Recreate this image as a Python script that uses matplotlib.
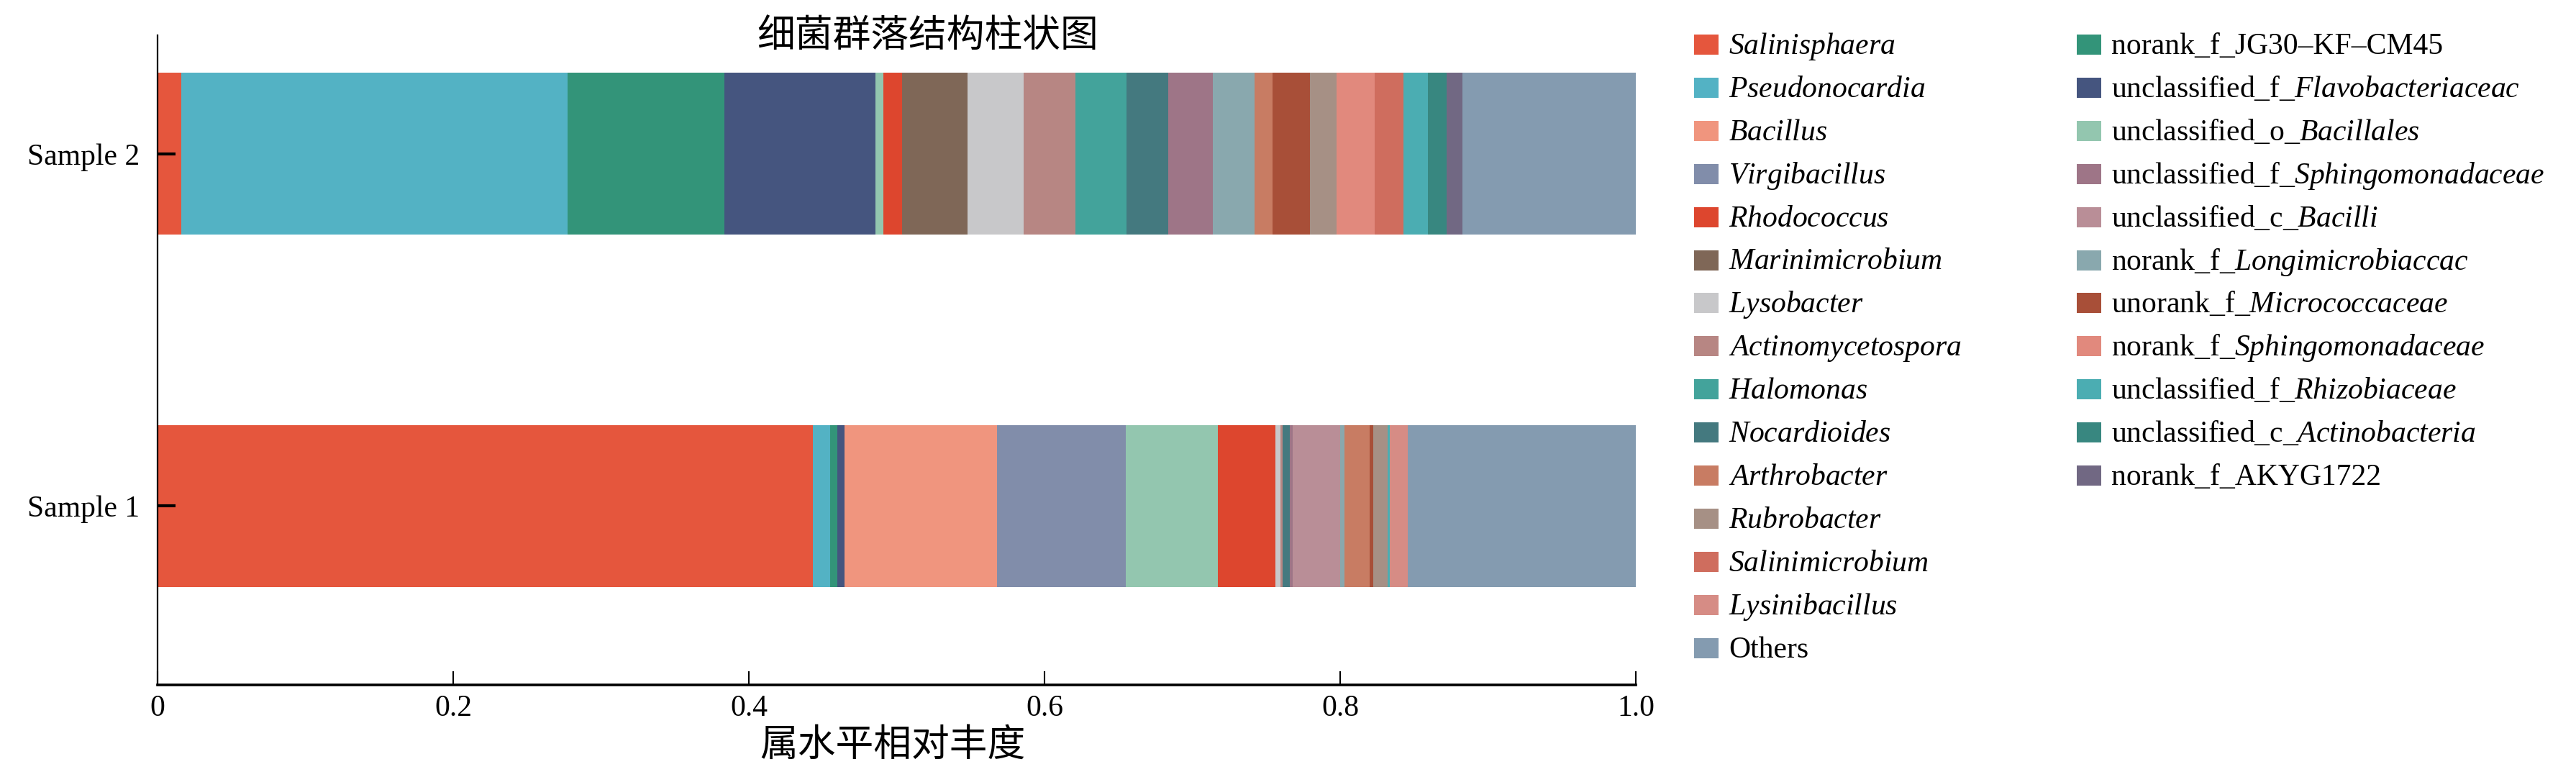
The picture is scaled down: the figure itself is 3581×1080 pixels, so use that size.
import matplotlib
matplotlib.use('Agg')
import matplotlib.pyplot as plt
from matplotlib.patches import Rectangle
import numpy as np

plt.rcParams['font.family'] = ['Liberation Serif', 'Noto Sans CJK SC', 'DejaVu Sans']
plt.rcParams['mathtext.fontset'] = 'custom'
plt.rcParams['mathtext.rm'] = 'Liberation Serif'
plt.rcParams['mathtext.it'] = 'Liberation Serif:italic'
plt.rcParams['mathtext.bf'] = 'Liberation Serif:bold'

# ---------------- data ----------------
samples = ['Sample 1', 'Sample 2']

taxa = ['Salinisphaera', 'Pseudonocardia', 'norank_f_JG30-KF-CM45',
        'unclassified_f_Flavobacteriaceac', 'Bacillus', 'Virgibacillus',
        'unclassified_o_Bacillales', 'Rhodococcus', 'Marinimicrobium',
        'Lysobacter', 'Actinomycetospora', 'Halomonas', 'Nocardioides',
        'unclassified_f_Sphingomonadaceae', 'unclassified_c_Bacilli',
        'norank_f_Longimicrobiaccac', 'Arthrobacter', 'unorank_f_Micrococcaceae',
        'Rubrobacter', 'norank_f_Sphingomonadaceae', 'Salinimicrobium',
        'unclassified_f_Rhizobiaceae', 'unclassified_c_Actinobacteria',
        'norank_f_AKYG1722', 'Lysinibacillus', 'Others']

sample1 = [0.4433, 0.0119, 0.0046, 0.0051, 0.1032, 0.0871,
           0.0621, 0.0391, 0.0, 0.0030, 0.0015, 0.0, 0.0049,
           0.0020, 0.0321, 0.0029, 0.0170, 0.0024,
           0.0097, 0.0, 0.0, 0.0019, 0.0, 0.0, 0.0117, 0.1545]

sample2 = [0.0160, 0.2614, 0.1061, 0.1022, 0.0, 0.0,
           0.0054, 0.0127, 0.0443, 0.0380, 0.0346, 0.0348, 0.0280,
           0.0302, 0.0, 0.0282, 0.0122, 0.0253,
           0.0180, 0.0258, 0.0195, 0.0168, 0.0124, 0.0107, 0.0, 0.1174]

# legend labels (rich text) and column layout
labels = {
    'Salinisphaera': r'$\mathit{Salinisphaera}$',
    'Pseudonocardia': r'$\mathit{Pseudonocardia}$',
    'Bacillus': r'$\mathit{Bacillus}$',
    'Virgibacillus': r'$\mathit{Virgibacillus}$',
    'Rhodococcus': r'$\mathit{Rhodococcus}$',
    'Marinimicrobium': r'$\mathit{Marinimicrobium}$',
    'Lysobacter': r'$\mathit{Lysobacter}$',
    'Actinomycetospora': r'$\mathit{Actinomycetospora}$',
    'Halomonas': r'$\mathit{Halomonas}$',
    'Nocardioides': r'$\mathit{Nocardioides}$',
    'Arthrobacter': r'$\mathit{Arthrobacter}$',
    'Rubrobacter': r'$\mathit{Rubrobacter}$',
    'Salinimicrobium': r'$\mathit{Salinimicrobium}$',
    'Lysinibacillus': r'$\mathit{Lysinibacillus}$',
    'Others': 'Others',
    'norank_f_JG30-KF-CM45': 'norank_f_JG30\u2013KF\u2013CM45',
    'unclassified_f_Flavobacteriaceac': r'unclassified_f_$\mathit{Flavobacteriaceac}$',
    'unclassified_o_Bacillales': r'unclassified_o_$\mathit{Bacillales}$',
    'unclassified_f_Sphingomonadaceae': r'unclassified_f_$\mathit{Sphingomonadaceae}$',
    'unclassified_c_Bacilli': r'unclassified_c_$\mathit{Bacilli}$',
    'norank_f_Longimicrobiaccac': r'norank_f_$\mathit{Longimicrobiaccac}$',
    'unorank_f_Micrococcaceae': r'unorank_f_$\mathit{Micrococcaceae}$',
    'norank_f_Sphingomonadaceae': r'norank_f_$\mathit{Sphingomonadaceae}$',
    'unclassified_f_Rhizobiaceae': r'unclassified_f_$\mathit{Rhizobiaceae}$',
    'unclassified_c_Actinobacteria': r'unclassified_c_$\mathit{Actinobacteria}$',
    'norank_f_AKYG1722': 'norank_f_AKYG1722',
}
legend_col1 = ['Salinisphaera', 'Pseudonocardia', 'Bacillus', 'Virgibacillus',
               'Rhodococcus', 'Marinimicrobium', 'Lysobacter', 'Actinomycetospora',
               'Halomonas', 'Nocardioides', 'Arthrobacter', 'Rubrobacter',
               'Salinimicrobium', 'Lysinibacillus', 'Others']
legend_col2 = ['norank_f_JG30-KF-CM45', 'unclassified_f_Flavobacteriaceac',
               'unclassified_o_Bacillales', 'unclassified_f_Sphingomonadaceae',
               'unclassified_c_Bacilli', 'norank_f_Longimicrobiaccac',
               'unorank_f_Micrococcaceae', 'norank_f_Sphingomonadaceae',
               'unclassified_f_Rhizobiaceae', 'unclassified_c_Actinobacteria',
               'norank_f_AKYG1722']

colors = {
    'Salinisphaera': '#E5563D', 'Pseudonocardia': '#53B2C4', 'Bacillus': '#F0957E',
    'Virgibacillus': '#818DAA', 'Rhodococcus': '#DD462E', 'Marinimicrobium': '#7F6757',
    'Lysobacter': '#C8C8CA', 'Actinomycetospora': '#B78683', 'Halomonas': '#43A39B',
    'Nocardioides': '#44797F', 'Arthrobacter': '#C87C63', 'Rubrobacter': '#A69085',
    'Salinimicrobium': '#CF6D5E', 'Lysinibacillus': '#D68C85', 'Others': '#849BB0',
    'norank_f_JG30-KF-CM45': '#339479', 'unclassified_f_Flavobacteriaceac': '#45557F',
    'unclassified_o_Bacillales': '#93C6AF', 'unclassified_f_Sphingomonadaceae': '#9E7587',
    'unclassified_c_Bacilli': '#B98E97', 'norank_f_Longimicrobiaccac': '#89A8AE',
    'unorank_f_Micrococcaceae': '#A84F38', 'norank_f_Sphingomonadaceae': '#E1897D',
    'unclassified_f_Rhizobiaceae': '#4BADB2', 'unclassified_c_Actinobacteria': '#388780',
    'norank_f_AKYG1722': '#716883',
}

xticks = [0, 0.2, 0.4, 0.6, 0.8, 1.0]
xticklabels = ['0', '0.2', '0.4', '0.6', '0.8', '1.0']
title = '细菌群落结构柱状图'
xlabel = '属水平相对丰度'

# ---------------- figure ----------------
W, H = 3581, 1080
fig = plt.figure(figsize=(W / 100, H / 100), dpi=100)
ax = fig.add_axes([219 / W, 1 - 952 / H, (2274 - 219) / W, (952 - 49) / H])

ypos = np.arange(len(samples))
vals = np.array([sample1, sample2])  # shape (2, ntaxa)
left = np.zeros(len(samples))
for j, t in enumerate(taxa):
    ax.barh(ypos, vals[:, j], left=left, height=0.46, color=colors[t],
            linewidth=0, zorder=1)
    left += vals[:, j]

ax.set_xlim(0, 1)
ax.set_ylim(-0.509, 1.337)
ax.set_xticks(xticks)
ax.set_xticklabels(xticklabels)
ax.set_yticks(ypos)
ax.set_yticklabels(samples)
ax.tick_params(axis='x', direction='in', length=14, width=1.5, labelsize=30, pad=10)
ax.tick_params(axis='y', direction='in', length=18, width=3, labelsize=30, pad=18)
for s in ['top', 'right']:
    ax.spines[s].set_visible(False)
ax.spines['bottom'].set_linewidth(2.6)
ax.spines['left'].set_linewidth(1.6)

fig.text(1290 / W, 1 - 50 / H, title, ha='center', va='center', fontsize=38,
         family=['Noto Sans CJK SC'])
fig.text(1241 / W, 1 - 1035 / H, xlabel, ha='center', va='center', fontsize=38,
         family=['Noto Sans CJK SC'])

# ---------------- legend (two columns) ----------------
row0, rowstep = 62, 59.9
patch_w, patch_h = 34, 28
for col, (px, tx) in zip([legend_col1, legend_col2], [(2355, 2403), (2887, 2935)]):
    for i, t in enumerate(col):
        yc = row0 + rowstep * i
        fig.add_artist(Rectangle((px / W, 1 - (yc + patch_h / 2) / H), patch_w / W, patch_h / H,
                                 transform=fig.transFigure, facecolor=colors[t],
                                 edgecolor='none'))
        fig.text(tx / W, 1 - (yc + 13) / H, labels[t], ha='left', va='baseline',
                 fontsize=30)

fig.savefig('out.png', dpi=100)
